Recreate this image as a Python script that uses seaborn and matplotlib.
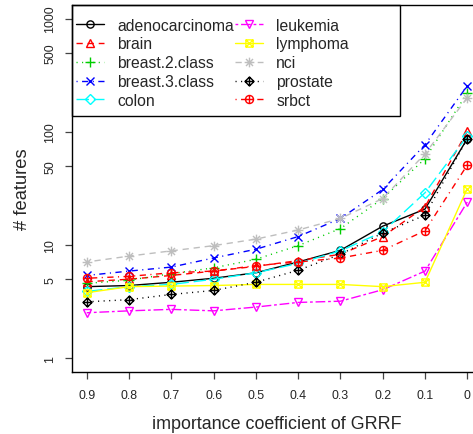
import numpy as np
import pandas as pd
import seaborn as sns
import matplotlib
matplotlib.use("Agg")
import matplotlib.pyplot as plt
from matplotlib.path import Path
from matplotlib.patches import Rectangle

# importance coefficient of GRRF (x axis, shown decreasing)
coef = [0.9, 0.8, 0.7, 0.6, 0.5, 0.4, 0.3, 0.2, 0.1, 0.0]
coef_labels = ["0.9", "0.8", "0.7", "0.6", "0.5", "0.4", "0.3", "0.2", "0.1", "0"]

# number of selected features per dataset
adenocarcinoma = [4.3, 4.4, 4.7, 5.1, 5.7, 7.1, 9.0, 14.7, 20.8, 87]
brain = [4.75, 5.0, 5.4, 5.9, 6.5, 7.3, 8.3, 11.9, 21.8, 101]
breast_2_class = [4.6, 4.9, 5.6, 6.3, 7.5, 9.9, 14.0, 25.8, 58, 220]
breast_3_class = [5.4, 5.9, 6.4, 7.7, 9.2, 11.9, 17.2, 31, 77, 255]
colon = [3.9, 4.3, 4.5, 5.0, 5.7, 6.9, 8.9, 13.1, 29, 92]
leukemia = [2.53, 2.63, 2.71, 2.63, 2.84, 3.12, 3.2, 4.04, 5.9, 24]
lymphoma = [3.8, 4.3, 4.35, 4.4, 4.5, 4.5, 4.5, 4.3, 4.7, 31.6]
nci = [7.1, 8.0, 8.9, 9.9, 11.3, 13.6, 17.2, 25.8, 64, 200]
prostate = [3.16, 3.3, 3.67, 3.98, 4.7, 6.0, 8.3, 12.8, 18.4, 87]
srbct = [5.1, 5.3, 5.7, 5.9, 6.6, 7.1, 7.7, 9.0, 13.4, 51]

names = ["adenocarcinoma", "brain", "breast.2.class", "breast.3.class", "colon",
         "leukemia", "lymphoma", "nci", "prostate", "srbct"]
series = [adenocarcinoma, brain, breast_2_class, breast_3_class, colon,
          leukemia, lymphoma, nci, prostate, srbct]

df = pd.DataFrame({
    "coef": np.tile(coef, len(names)),
    "features": np.concatenate(series),
    "dataset": np.repeat(names, len(coef)),
})

# R-like pch symbols
MV, LN, CL = Path.MOVETO, Path.LINETO, Path.CLOSEPOLY
plus = Path([(-1, 0), (1, 0), (0, -1), (0, 1)], [MV, LN, MV, LN])
cross = Path([(-0.72, -0.72), (0.72, 0.72), (-0.72, 0.72), (0.72, -0.72)], [MV, LN, MV, LN])
diag = Path([(-1, -1), (1, 1), (-1, 1), (1, -1)], [MV, LN, MV, LN])
square = Path([(-1, -1), (1, -1), (1, 1), (-1, 1), (-1, -1)], [MV, LN, LN, LN, CL])
diamond = Path([(0, 1), (1, 0), (0, -1), (-1, 0), (0, 1)], [MV, LN, LN, LN, CL])
circ = Path.unit_circle()
sq_x = Path.make_compound_path(square, diag)
asterisk = Path.make_compound_path(plus, cross)
diam_plus = Path.make_compound_path(diamond, plus)
circ_plus = Path.make_compound_path(circ, plus)

colors = ["black", "red", "#00CD00", "blue", "cyan", "magenta", "yellow", "#BEBEBE", "black", "red"]
markers = ["o", "^", "+", "x", "D", "v", sq_x, asterisk, diam_plus, circ_plus]
msizes = [5.2, 6, 7, 6, 5.5, 6, 5.2, 7, 6.5, 5.8]
solid = "-"
dashed = (0, (4.5, 3.5))
dotted = (0, (0.8, 3.2))
dotdash = (0, (0.8, 3.2, 4.5, 3.2))
longdash = (0, (9, 3.5))
twodash = (0, (2, 2, 7, 2))
styles = [solid, dashed, dotted, dotdash, longdash, twodash, solid, dashed, dotted, dotdash]

sns.set_style("ticks")
plt.rcParams["font.family"] = ["Liberation Sans", "DejaVu Sans"]

fig = plt.figure(figsize=(4.73, 4.35), dpi=100)
ax = fig.add_axes([71.5 / 473, 62 / 435, 411 / 473, 367 / 435])

for name, c, m, ms, ls in zip(names, colors, markers, msizes, styles):
    sns.lineplot(data=df[df["dataset"] == name], x="coef", y="features", ax=ax,
                 color=c, marker=m, markersize=ms, markerfacecolor="none",
                 markeredgecolor=c, markeredgewidth=1.0, linestyle=ls,
                 linewidth=1.0, label=name)

ax.set_yscale("log")
ax.set_xlim(0.936, -0.036)
ax.set_ylim(10 ** -0.12, 10 ** 3.12)
ax.set_xticks(coef)
ax.set_xticklabels(coef_labels)
yt = [1, 5, 10, 50, 100, 500, 1000]
ax.set_yticks(yt)
ax.set_yticklabels([str(v) for v in yt], rotation=90, va="center")
ax.minorticks_off()
ax.tick_params(axis="both", direction="out", length=5, width=0.9, color="#444444",
               labelsize=8.9, pad=7.5)
ax.tick_params(axis="y", pad=6)
for s in ax.spines.values():
    s.set_visible(True)
    s.set_color("black")
    s.set_linewidth(1.0)

ax.set_xlabel("importance coefficient of GRRF", fontsize=12.9, labelpad=10)
ax.set_ylabel("# features", fontsize=13.2, labelpad=9.5)

handles, labels = ax.get_legend_handles_labels()
leg = ax.legend(handles, labels, ncol=2, loc="upper left",
                bbox_to_anchor=(0, 1 - 8 / 367),
                borderaxespad=0, frameon=False, fontsize=11.3, handlelength=1.75,
                handletextpad=0.85, columnspacing=0.1, labelspacing=0.24,
                borderpad=0.3)
ax.add_patch(Rectangle((0, 0.6975), 0.799, 0.3025, transform=ax.transAxes,
                       fill=False, edgecolor="black", linewidth=1.0, zorder=5,
                       clip_on=False))

fig.savefig("out.png", dpi=100)
